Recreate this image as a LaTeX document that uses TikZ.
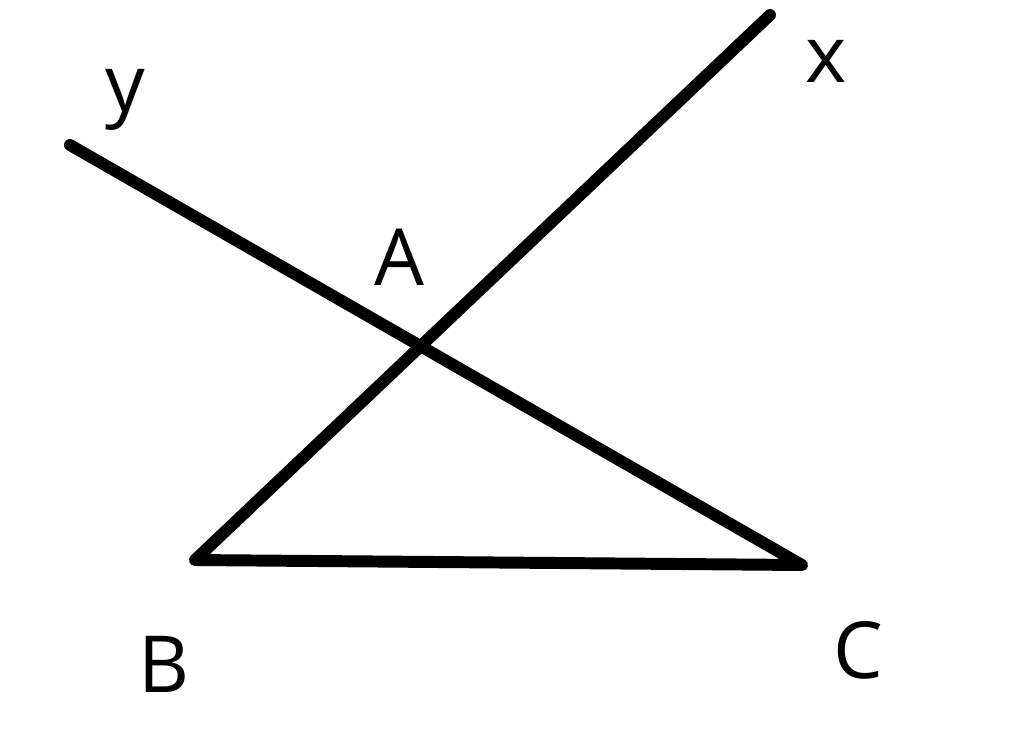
\documentclass[tikz,border=0pt]{standalone}
\usepackage{fontspec}
\setmainfont{Open Sans}
\providecommand{\lbl}[1]{{\fontsize{56}{60}\selectfont #1}}

\begin{document}
\begin{tikzpicture}[x=0.025cm,y=-0.025cm,
    leg/.style={line width=8.5pt,line cap=round,line join=round},
    every node/.style={inner sep=0pt}
  ]
  \useasboundingbox (0,0) rectangle (1024,746);
  \coordinate (B) at (195,560);
  \coordinate (C) at (802,565);
  \coordinate (xend) at (770,15);
  \coordinate (yend) at (70,145);
  \draw[leg] (xend) -- (B) -- (C) -- (yend);
  \node (lx) at (826,61) {\lbl{x}};
  \node (ly) at (125,100) {\lbl{y}};
  \node (lA) at (399,257) {\lbl{A}};
  \node (lB) at (164,664) {\lbl{B}};
  \node (lC) at (858,650) {\lbl{C}};
\end{tikzpicture}
\end{document}
